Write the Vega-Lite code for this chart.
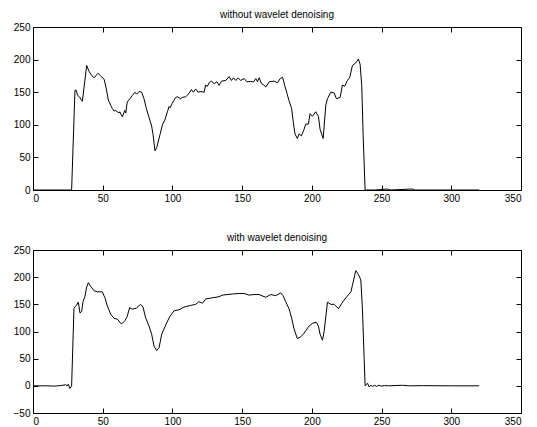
{
  "$schema": "https://vega.github.io/schema/vega-lite/v6.json",
  "padding": {"left": 12, "top": 9, "right": 5, "bottom": 5},
  "background": "white",
  "config": {
    "font": "Liberation Sans",
    "view": {"stroke": "black", "strokeWidth": 1},
    "axis": {
      "grid": false,
      "domain": false,
      "ticks": true,
      "tickColor": "black",
      "tickOpacity": 1,
      "tickWidth": 1,
      "tickSize": 5,
      "offset": -5,
      "zindex": 2,
      "labelPadding": 3,
      "labelFontSize": 10,
      "labelColor": "black",
      "title": null
    },
    "title": {"fontSize": 10, "fontWeight": "normal", "color": "black", "offset": 2}
  },
  "datasets": {
    "raw": [
      {"x":0,"y":0},{"x":27.7,"y":0},{"x":30.1,"y":153},{"x":31,"y":153},{"x":32,"y":145},{"x":33.2,"y":143},{"x":35.4,"y":136},{"x":38.5,"y":191},{"x":40.2,"y":182},{"x":42,"y":176},{"x":43.8,"y":172},{"x":45,"y":175},{"x":46.6,"y":179},{"x":48.5,"y":175},{"x":51,"y":170},{"x":52.6,"y":155},{"x":54,"y":138},{"x":55.7,"y":130},{"x":56.9,"y":125},{"x":58.1,"y":121},{"x":59.3,"y":122},{"x":60.5,"y":120},{"x":61.7,"y":118},{"x":62.2,"y":120},{"x":64.1,"y":112},{"x":65.8,"y":122},{"x":66.5,"y":118},{"x":67.6,"y":135},{"x":69.5,"y":140},{"x":71.2,"y":145},{"x":73.1,"y":150},{"x":74.3,"y":147},{"x":76,"y":151},{"x":77.9,"y":150},{"x":79.6,"y":140},{"x":81.3,"y":125},{"x":82.7,"y":115},{"x":85.1,"y":98},{"x":86.1,"y":85},{"x":87.5,"y":60},{"x":88.7,"y":65},{"x":91.1,"y":85},{"x":92.8,"y":100},{"x":94.5,"y":107},{"x":96.4,"y":120},{"x":97.6,"y":128},{"x":98.3,"y":126},{"x":99.9,"y":133},{"x":101.1,"y":137.5},{"x":102.3,"y":142},{"x":103.5,"y":143},{"x":105.9,"y":140},{"x":107,"y":142},{"x":109.5,"y":143},{"x":111.9,"y":148},{"x":113.6,"y":154},{"x":115,"y":150},{"x":116.7,"y":155},{"x":118.4,"y":150},{"x":120.5,"y":151},{"x":122.7,"y":150},{"x":123.9,"y":161},{"x":125.1,"y":159},{"x":126.3,"y":164.6},{"x":128,"y":167},{"x":129.9,"y":163},{"x":131.8,"y":166},{"x":133.5,"y":160.5},{"x":135.2,"y":167},{"x":138.3,"y":168},{"x":140.7,"y":174},{"x":142.3,"y":168},{"x":143.8,"y":172},{"x":145.5,"y":168},{"x":147.1,"y":172},{"x":149,"y":168},{"x":151.4,"y":171},{"x":153.4,"y":166},{"x":155.8,"y":166.6},{"x":158.2,"y":166},{"x":159.8,"y":171},{"x":161,"y":166},{"x":162.2,"y":172},{"x":163.9,"y":163},{"x":165,"y":162},{"x":167,"y":158},{"x":169.4,"y":166},{"x":173,"y":167},{"x":175.4,"y":164.6},{"x":177.3,"y":171},{"x":179,"y":173},{"x":180.6,"y":160},{"x":182.2,"y":148},{"x":183.6,"y":137},{"x":185.5,"y":125},{"x":186.7,"y":104},{"x":187.9,"y":86},{"x":189.6,"y":79},{"x":190.8,"y":86},{"x":192.5,"y":83},{"x":194.4,"y":93},{"x":195.6,"y":101},{"x":197.5,"y":101},{"x":198.7,"y":117},{"x":200.4,"y":113},{"x":202.8,"y":120},{"x":204.7,"y":113},{"x":205.9,"y":93},{"x":208.1,"y":79},{"x":210,"y":130},{"x":211.2,"y":140},{"x":213.6,"y":150},{"x":216,"y":149},{"x":217.6,"y":140},{"x":220.3,"y":142},{"x":221.9,"y":161},{"x":223.6,"y":159},{"x":225.5,"y":168},{"x":227.2,"y":173},{"x":229.1,"y":191},{"x":231.5,"y":195},{"x":233.4,"y":201},{"x":234.6,"y":193},{"x":235.8,"y":160},{"x":236.8,"y":83},{"x":238.2,"y":0},{"x":245,"y":0},{"x":254,"y":1.5},{"x":256,"y":0},{"x":272,"y":1.5},{"x":274,"y":0},{"x":300,"y":0},{"x":320,"y":0}
    ],
    "den": [
      {"x":0,"y":0},{"x":10,"y":0},{"x":15,"y":-0.5},{"x":20,"y":0.5},{"x":23.4,"y":2},{"x":24.5,"y":0},{"x":25.3,"y":3},{"x":26.5,"y":-5},{"x":27.7,"y":0},{"x":29.4,"y":143},{"x":31.1,"y":148},{"x":32.5,"y":154},{"x":33.7,"y":134},{"x":34.9,"y":137},{"x":35.9,"y":155},{"x":37.3,"y":165},{"x":38.5,"y":182},{"x":39.7,"y":190},{"x":41.4,"y":183},{"x":43.8,"y":175},{"x":46.2,"y":173},{"x":49.7,"y":173},{"x":51.6,"y":162},{"x":53.3,"y":147},{"x":55.7,"y":132},{"x":58.1,"y":124},{"x":60.5,"y":123},{"x":62.9,"y":115},{"x":64.1,"y":115},{"x":66,"y":120},{"x":67.6,"y":128},{"x":69.3,"y":144},{"x":71.2,"y":141},{"x":74.1,"y":143},{"x":77.2,"y":150},{"x":78.9,"y":145},{"x":80.8,"y":125},{"x":83.2,"y":110},{"x":85.1,"y":95},{"x":86.8,"y":73},{"x":88.7,"y":65},{"x":90.4,"y":70},{"x":92.3,"y":95},{"x":95.2,"y":112},{"x":98,"y":127},{"x":101.1,"y":138},{"x":104.7,"y":140},{"x":108.3,"y":145},{"x":113.1,"y":148},{"x":116.7,"y":150},{"x":119,"y":155},{"x":121.5,"y":152},{"x":123.9,"y":160},{"x":128.6,"y":162},{"x":133.4,"y":164},{"x":135.8,"y":167},{"x":143,"y":169},{"x":147.8,"y":170},{"x":151.4,"y":170},{"x":155,"y":167},{"x":158.5,"y":168},{"x":162.1,"y":168},{"x":166.9,"y":163},{"x":170.5,"y":168},{"x":174.1,"y":166},{"x":177.7,"y":171},{"x":179.3,"y":166},{"x":181.2,"y":155},{"x":183.6,"y":142},{"x":185.5,"y":125},{"x":187.2,"y":105},{"x":189.6,"y":87},{"x":192,"y":90},{"x":194.4,"y":97},{"x":198,"y":110},{"x":200.4,"y":115},{"x":203.3,"y":117},{"x":204.7,"y":110},{"x":205.9,"y":95},{"x":207.6,"y":84},{"x":208.8,"y":100},{"x":211.2,"y":154},{"x":213.6,"y":150},{"x":216,"y":150},{"x":219.1,"y":142},{"x":221.5,"y":152},{"x":224.4,"y":162},{"x":228,"y":173},{"x":229.1,"y":185},{"x":231.5,"y":212},{"x":233.4,"y":205},{"x":235.1,"y":195},{"x":236.3,"y":140},{"x":237.5,"y":50},{"x":238.2,"y":0},{"x":239.9,"y":5},{"x":241.1,"y":-2},{"x":242.3,"y":1},{"x":243.5,"y":-1},{"x":245,"y":1},{"x":246.5,"y":-1},{"x":248,"y":1},{"x":250,"y":-0.5},{"x":252,"y":0.5},{"x":255,"y":0},{"x":265,"y":1},{"x":270,"y":0},{"x":280,"y":0.3},{"x":300,"y":0},{"x":320,"y":0}
    ]
  },
  "vconcat": [
    {
      "title": "without wavelet denoising",
      "width": 488,
      "height": 163,
      "data": {"name": "raw"},
      "layer": [
        {
          "mark": {"type": "line", "color": "black", "strokeWidth": 1, "clip": true},
          "encoding": {
            "x": {"field": "x", "type": "quantitative", "scale": {"domain": [0, 350], "nice": false}, "axis": {"values": [0,50,100,150,200,250,300,350]}},
            "y": {"field": "y", "type": "quantitative", "scale": {"domain": [0, 250], "nice": false, "zero": false}, "axis": {"values": [0,50,100,150,200,250]}}
          }
        },
        {
          "mark": {"type": "line", "strokeOpacity": 0},
          "encoding": {
            "x": {"field": "x", "type": "quantitative", "axis": {"orient": "top", "labels": false, "values": [0,50,100,150,200,250,300,350]}},
            "y": {"field": "y", "type": "quantitative", "axis": {"orient": "right", "labels": false, "values": [0,50,100,150,200,250]}}
          }
        }
      ],
      "resolve": {"axis": {"x": "independent", "y": "independent"}}
    },
    {
      "title": "with wavelet denoising",
      "width": 488,
      "height": 163,
      "data": {"name": "den"},
      "layer": [
        {
          "mark": {"type": "line", "color": "black", "strokeWidth": 1, "clip": true},
          "encoding": {
            "x": {"field": "x", "type": "quantitative", "scale": {"domain": [0, 350], "nice": false}, "axis": {"values": [0,50,100,150,200,250,300,350]}},
            "y": {"field": "y", "type": "quantitative", "scale": {"domain": [-50, 250], "nice": false, "zero": false}, "axis": {"values": [-50,0,50,100,150,200,250]}}
          }
        },
        {
          "mark": {"type": "line", "strokeOpacity": 0},
          "encoding": {
            "x": {"field": "x", "type": "quantitative", "axis": {"orient": "top", "labels": false, "values": [0,50,100,150,200,250,300,350]}},
            "y": {"field": "y", "type": "quantitative", "axis": {"orient": "right", "labels": false, "values": [-50,0,50,100,150,200,250]}}
          }
        }
      ],
      "resolve": {"axis": {"x": "independent", "y": "independent"}}
    }
  ],
  "spacing": 60,
  "bounds": "flush"
}
